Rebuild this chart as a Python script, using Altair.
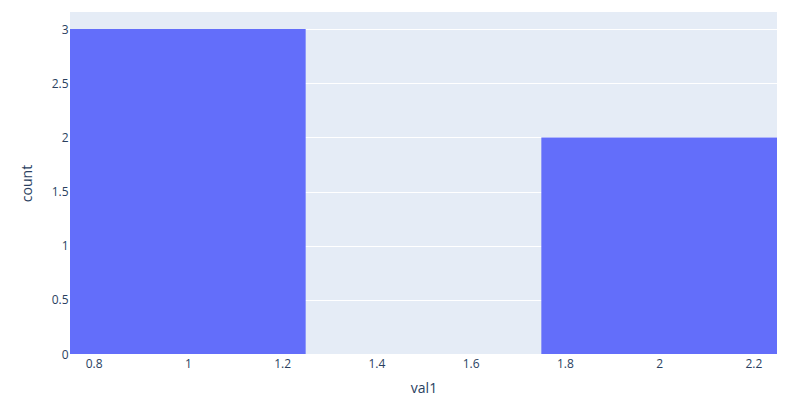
import altair as alt
import pandas as pd

bin_start = [0.75, 1.25, 1.75]
bin_end = [1.25, 1.75, 2.25]
counts = [3, 0, 2]

x_ticks = [0.8, 1.0, 1.2, 1.4, 1.6, 1.8, 2.0, 2.2]
y_ticks = [0, 0.5, 1, 1.5, 2, 2.5, 3]

df = pd.DataFrame({"start": bin_start, "end": bin_end, "count": counts})

FONT = "Open Sans"
TXT = "#2a3f5f"

chart = alt.Chart(df).mark_rect(color="#636efa").encode(
    x=alt.X("start:Q",
            scale=alt.Scale(domain=[0.75, 2.25], nice=False, zero=False),
            axis=alt.Axis(title="val1", values=x_ticks, format="~g", grid=False,
                          domain=False, ticks=False, labelPadding=4,
                          titlePadding=12, labelFont=FONT, titleFont=FONT,
                          labelFontSize=12, titleFontSize=14, labelColor=TXT,
                          titleColor=TXT, titleFontWeight="normal")),
    x2="end:Q",
    y=alt.Y("count:Q",
            scale=alt.Scale(domain=[0, 3.1579], nice=False),
            axis=alt.Axis(title="count", values=y_ticks, format="~g", grid=True,
                          gridColor="white", gridWidth=1, domain=False, ticks=False,
                          labelPadding=2, titlePadding=17, labelFont=FONT,
                          titleFont=FONT, labelFontSize=12, titleFontSize=14,
                          labelColor=TXT, titleColor=TXT,
                          titleFontWeight="normal")),
    y2=alt.Y2(datum=0),
).properties(
    width=707,
    height=342,
    background="white",
    autosize=alt.AutoSizeParams(type="none"),
    padding={"left": 62, "top": 4, "right": 15, "bottom": 41},
).configure_view(
    fill="#e5ecf6", strokeWidth=0
)

chart.save("out.html", embed_options={"renderer": "svg", "actions": False})
